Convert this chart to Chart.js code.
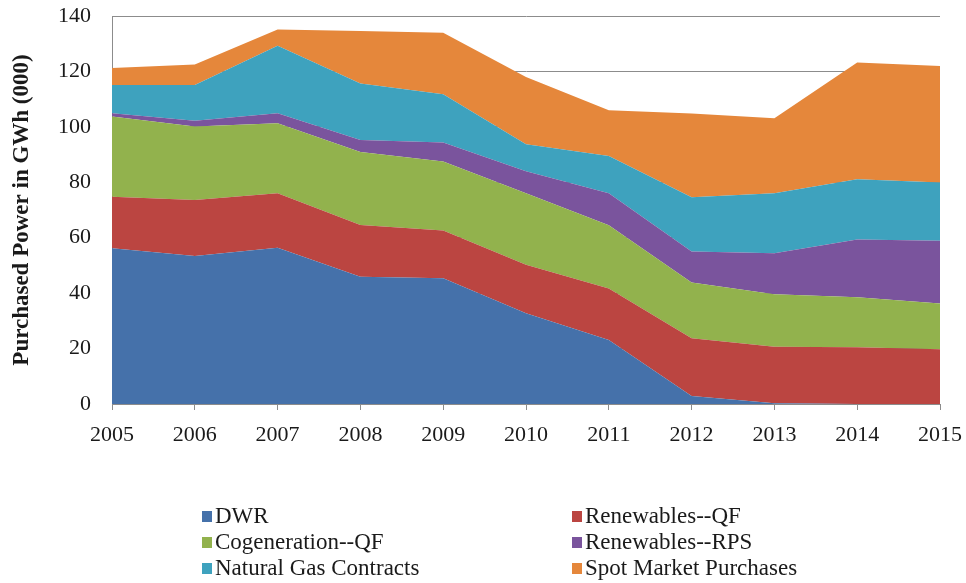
<!DOCTYPE html>
<html>
<head>
<meta charset="utf-8">
<script src="https://cdn.jsdelivr.net/npm/chart.js@4/dist/chart.umd.min.js"></script>
<style>
  html, body { margin: 0; padding: 0; background: #ffffff; }
  #wrap { position: relative; width: 966px; height: 583px; }
  #chart { position: absolute; left: 0; top: 0; }
  #legend {
    position: absolute; left: 202px; top: 503px;
    display: grid; grid-template-columns: 370px 300px; grid-auto-rows: 26px;
    font-family: "Liberation Serif", "Times New Roman", serif; font-size: 23px; color: #1a1a1a;
  }
  #legend .item { display: flex; align-items: center; white-space: nowrap; }
  #legend .box { width: 10px; height: 11px; margin-right: 3px; flex: none; }
</style>
</head>
<body>
<div id="wrap">
  <canvas id="chart" width="966" height="583"></canvas>
  <div id="legend"></div>
</div>
<script>
// Purchased power by source, thousands of GWh
const years = ['2005', '2006', '2007', '2008', '2009', '2010', '2011', '2012', '2013', '2014', '2015'];
const yTicks = [0, 20, 40, 60, 80, 100, 120, 140];

const dwr            = [56.2, 53.4, 56.4, 45.9, 45.4, 32.7, 23.1, 2.9, 0.3, 0.0, 0.0];
const renewablesQF   = [18.6, 20.2, 19.6, 18.7, 17.2, 17.5, 18.6, 20.8, 20.4, 20.5, 19.8];
const cogenerationQF = [28.9, 26.5, 25.3, 26.3, 24.9, 25.8, 22.8, 20.1, 18.9, 18.0, 16.5];
const renewablesRPS  = [1.2, 2.1, 3.6, 4.4, 6.9, 8.0, 11.5, 11.2, 14.8, 20.9, 22.6];
const naturalGas     = [10.2, 12.9, 24.4, 20.3, 17.4, 9.7, 13.5, 19.6, 21.6, 21.7, 21.0];
const spotMarket     = [6.1, 7.4, 5.8, 19.0, 22.2, 24.3, 16.5, 30.2, 27.1, 42.1, 42.1];

const seriesNames  = ['DWR', 'Renewables--QF', 'Cogeneration--QF', 'Renewables--RPS', 'Natural Gas Contracts', 'Spot Market Purchases'];
const seriesValues = [dwr, renewablesQF, cogenerationQF, renewablesRPS, naturalGas, spotMarket];
const seriesColors = ['#4571aa', '#bb4541', '#92b24d', '#7a549d', '#3ea2be', '#e5873b'];

const serif = '"Liberation Serif", "Times New Roman", serif';

const datasets = seriesNames.map((name, i) => ({
  label: name,
  data: seriesValues[i],
  backgroundColor: seriesColors[i],
  borderColor: seriesColors[i],
  borderWidth: 0,
  showLine: false,
  pointRadius: 0,
  pointHoverRadius: 0,
  tension: 0,
  fill: i === 0 ? 'origin' : '-1'
}));

const chart = new Chart(document.getElementById('chart'), {
  type: 'line',
  data: { labels: years, datasets },
  options: {
    responsive: false,
    animation: false,
    layout: { padding: { top: 16, right: 26, left: 0, bottom: 0 } },
    plugins: { legend: { display: false }, tooltip: { enabled: false } },
    scales: {
      x: {
        offset: false,
        grid: { display: true, drawOnChartArea: false, drawTicks: true, tickLength: 6, color: '#8c8c8c' },
        border: { display: true, color: '#8c8c8c', width: 1 },
        ticks: { font: { family: serif, size: 22 }, color: '#1a1a1a', padding: 12, maxRotation: 0, autoSkip: false },
        afterFit: s => { s.height = 179; s.paddingLeft = 0; s.paddingRight = 0; }
      },
      y: {
        stacked: true,
        min: 0, max: 140,
        afterBuildTicks: s => { s.ticks = yTicks.map(v => ({ value: v })); },
        grid: { color: '#8c8c8c', lineWidth: 1, drawTicks: false },
        border: { display: true, color: '#8c8c8c', width: 1 },
        ticks: { font: { family: serif, size: 22 }, color: '#1a1a1a', padding: 21 },
        title: {
          display: true,
          text: 'Purchased Power in GWh (000)',
          font: { family: serif, size: 23, weight: 'bold' },
          color: '#1a1a1a',
          padding: { top: 8, bottom: 0 }
        },
        afterFit: s => { s.width = 112; s.paddingTop = 0; s.paddingBottom = 0; }
      }
    }
  }
});

// Legend in two columns, built from the chart's own datasets
const legend = document.getElementById('legend');
chart.data.datasets.forEach(ds => {
  const item = document.createElement('div');
  item.className = 'item';
  const box = document.createElement('span');
  box.className = 'box';
  box.style.background = ds.backgroundColor;
  const txt = document.createElement('span');
  txt.textContent = ds.label;
  item.appendChild(box);
  item.appendChild(txt);
  legend.appendChild(item);
});
</script>
</body>
</html>
